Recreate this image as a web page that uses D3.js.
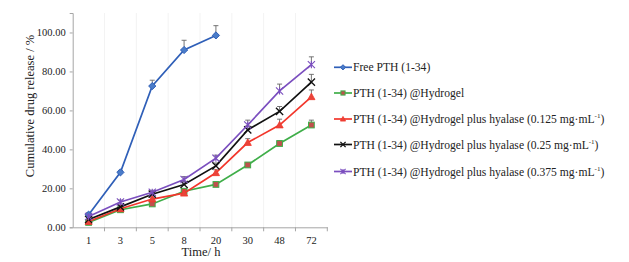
<!DOCTYPE html>
<html>
<head>
<meta charset="utf-8">
<script src="https://cdn.jsdelivr.net/npm/d3@7"></script>
<style>
body { margin: 0; background: #fff; }
svg { font-family: "Liberation Serif", "Times New Roman", serif; }
</style>
</head>
<body>
<svg id="chart" width="629" height="262"></svg>
<script>
// 数据
const times = ["1", "3", "5", "8", "20", "30", "48", "72"];
const yTicks = [0, 20, 40, 60, 80, 100];

const seriesNames = [
    "Free PTH (1-34)",
    "PTH (1-34) @Hydrogel",
    "PTH (1-34) @Hydrogel plus hyalase (0.125 mg·mL",
    "PTH (1-34) @Hydrogel plus hyalase (0.25 mg·mL",
    "PTH (1-34) @Hydrogel plus hyalase (0.375 mg·mL"
];
const freeVals = [6.5, 28.2, 72.5, 91, 98.5];
const freeErr = [1, 1, 3, 5, 5];
const gelVals = [2.5, 9, 12, 18.5, 22, 32, 43, 52.5];
const gelErr = [0.5, 0.8, 1, 1, 1, 1, 1.5, 2.5];
const h125Vals = [3, 9.5, 14.5, 17.5, 28, 43.5, 52.5, 67];
const h125Err = [0.5, 0.8, 1, 1, 1.5, 2, 3, 3.5];
const h25Vals = [4, 10.5, 17, 22, 31.5, 50, 59.5, 74.5];
const h25Err = [0.5, 1, 1, 1.5, 1.5, 2, 2.5, 4];
const h375Vals = [5.5, 13, 18, 24.5, 35.5, 52.5, 70, 83.5];
const h375Err = [0.5, 1, 1, 1.5, 1.5, 2.5, 3.5, 4];

const series = [
    { name: seriesNames[0], vals: freeVals, err: freeErr, line: "#2f5fb8", fill: "#4a7cc9", shape: "diamond", sup: false },
    { name: seriesNames[1], vals: gelVals, err: gelErr, line: "#3fae49", fill: "#c0504d", shape: "square", sup: false },
    { name: seriesNames[2], vals: h125Vals, err: h125Err, line: "#f2362b", fill: "#e8443a", shape: "triangle", sup: true },
    { name: seriesNames[3], vals: h25Vals, err: h25Err, line: "#111111", fill: "#111111", shape: "x", sup: true },
    { name: seriesNames[4], vals: h375Vals, err: h375Err, line: "#7b4fbf", fill: "#7b4fbf", shape: "star", sup: true }
];

let margin = { top: 13, left: 72.7 },
    width = 254.6,
    height = 214.3

let svg = d3.select("#chart")
let g = svg.append("g").attr("transform", "translate(" + margin.left + "," + margin.top + ")")

let x = d3.scaleBand().domain(times).range([0, width])
let y = d3.scaleLinear().domain([0, 110]).range([height, 0])

// 浅色竖线
g.selectAll(".vgrid")
    .data(times.slice(1))
    .enter()
    .append("line")
    .attr("x1", d => x(d)).attr("x2", d => x(d))
    .attr("y1", 0).attr("y2", height)
    .attr("stroke", "#f3f3f3")

// y 轴
let yAxis = g.append("g")
    .call(d3.axisLeft(y).tickValues(yTicks).tickSize(3).tickFormat(d3.format(".2f")))
yAxis.select(".domain").attr("stroke", "#a6a6a6")
yAxis.selectAll(".tick line").attr("stroke", "#a6a6a6")
yAxis.selectAll("text").attr("font-size", "10.5px").attr("fill", "#222").attr("dx", "-1")
yAxis.attr("font-family", null)

// x 轴
let xAxis = g.append("g")
    .attr("transform", "translate(0," + height + ")")
    .call(d3.axisBottom(x).tickSize(0).tickPadding(9))
xAxis.select(".domain").attr("stroke", "#a6a6a6")
xAxis.selectAll("text").attr("font-size", "10.5px").attr("fill", "#222")
xAxis.attr("font-family", null)
xAxis.selectAll(".btick")
    .data(times.slice(1).concat(["end"]))
    .enter()
    .append("line")
    .attr("x1", d => d === "end" ? width : x(d))
    .attr("x2", d => d === "end" ? width : x(d))
    .attr("y1", 0).attr("y2", 4)
    .attr("stroke", "#a6a6a6")

// 轴标题
svg.append("text")
    .attr("transform", "translate(34,106) rotate(-90)")
    .attr("text-anchor", "middle")
    .attr("font-size", "12.5px")
    .attr("fill", "#222")
    .text("Cumulative drug release / %")

svg.append("text")
    .attr("x", margin.left + width / 2 + 1)
    .attr("y", 256)
    .attr("text-anchor", "middle")
    .attr("font-size", "12.5px")
    .attr("fill", "#222")
    .text("Time/ h")

function drawMarker(sel, shape, s, line, fill) {
    if (shape === "diamond") {
        sel.append("path").attr("d", `M0,${-s}L${s},0L0,${s}L${-s},0Z`)
            .attr("fill", fill).attr("stroke", line).attr("stroke-width", 1)
    } else if (shape === "square") {
        sel.append("rect").attr("x", -s * 0.8).attr("y", -s * 0.8).attr("width", s * 1.6).attr("height", s * 1.6)
            .attr("fill", fill).attr("stroke", line).attr("stroke-width", 1)
    } else if (shape === "triangle") {
        sel.append("path").attr("d", `M0,${-s}L${s},${s * 0.8}L${-s},${s * 0.8}Z`)
            .attr("fill", fill).attr("stroke", line).attr("stroke-width", 0.8)
    } else if (shape === "x") {
        sel.append("path").attr("d", `M${-s},${-s}L${s},${s}M${-s},${s}L${s},${-s}`)
            .attr("stroke", line).attr("stroke-width", 1.3)
    } else {
        sel.append("path").attr("d", `M${-s},${-s}L${s},${s}M${-s},${s}L${s},${-s}M0,${-s}L0,${s}`)
            .attr("stroke", line).attr("stroke-width", 1.1)
    }
}

let cx = d => x(d) + x.bandwidth() / 2
let lineGen = d3.line().x(d => cx(d.t)).y(d => y(d.v))

// 误差线
series.forEach(function (s) {
    let pts = s.vals.map((v, i) => ({ t: times[i], v: v, e: s.err[i] }))
    let eb = g.append("g")
    pts.forEach(function (p) {
        eb.append("line").attr("x1", cx(p.t)).attr("x2", cx(p.t))
            .attr("y1", y(p.v)).attr("y2", y(p.v + p.e)).attr("stroke", "#666").attr("stroke-width", 0.9)
        eb.append("line").attr("x1", cx(p.t) - 2.5).attr("x2", cx(p.t) + 2.5)
            .attr("y1", y(p.v + p.e)).attr("y2", y(p.v + p.e)).attr("stroke", "#666").attr("stroke-width", 0.9)
    })
})

// 折线和标记
series.forEach(function (s) {
    let pts = s.vals.map((v, i) => ({ t: times[i], v: v }))
    g.append("path").datum(pts)
        .attr("d", lineGen)
        .attr("fill", "none")
        .attr("stroke", s.line)
        .attr("stroke-width", 1.7)
    pts.forEach(function (p) {
        let m = g.append("g").attr("transform", "translate(" + cx(p.t) + "," + y(p.v) + ")")
        drawMarker(m, s.shape, 3.6, s.line, s.fill)
    })
})

// 图例
let legend = svg.append("g").attr("transform", "translate(334,0)")
let rowY = [67.3, 93, 119, 144.5, 171.5]
series.forEach(function (s, i) {
    let r = legend.append("g").attr("transform", "translate(0," + rowY[i] + ")")
    r.append("line").attr("x1", 0).attr("x2", 18).attr("stroke", s.line).attr("stroke-width", 1.7)
    let m = r.append("g").attr("transform", "translate(9,0)")
    drawMarker(m, s.shape, 2.6, s.line, s.fill)
    let t = r.append("text").attr("x", 19).attr("y", 4).attr("font-size", "11.6px").attr("fill", "#222")
    t.append("tspan").text(s.name)
    if (s.sup) {
        t.append("tspan").attr("font-size", "7px").attr("dy", "-5").text("-1")
        t.append("tspan").attr("dy", "5").text(")")
    }
})
</script>
</body>
</html>
